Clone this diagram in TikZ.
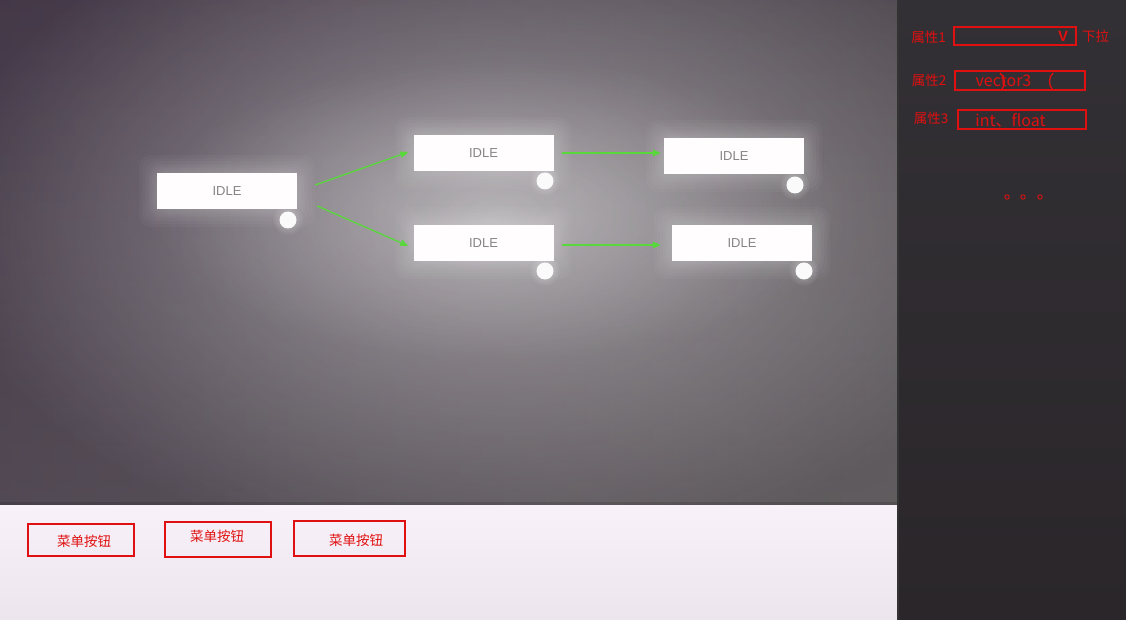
\documentclass[tikz,border=0pt]{standalone}
\usepackage{fontspec}
\setmainfont{Liberation Sans}
\newfontfamily\cjk{Noto Sans CJK SC}
\usetikzlibrary{arrows.meta,fadings}
\tikzfading[name=myglow, inner color=transparent!0, outer color=transparent!100]
\definecolor{redui}{HTML}{E01010}
\definecolor{greenarrow}{HTML}{58D83A}
\definecolor{idletext}{HTML}{858585}
\definecolor{bgtop}{HTML}{5E5062}
\definecolor{bgbot}{HTML}{8A8688}
\definecolor{bgleft}{HTML}{5A4A60}
\definecolor{bgright}{HTML}{7A7478}
\definecolor{bartop}{HTML}{F9F1F9}
\definecolor{barbot}{HTML}{ECE5EE}
\definecolor{paneltop}{HTML}{333035}
\definecolor{panelbot}{HTML}{2A262A}
\begin{document}
\begin{tikzpicture}[x=1pt,y=-1pt,
  idlebox/.style={fill=white!97!pink, minimum width=140pt, minimum height=36pt, inner sep=0pt, font=\fontsize{13}{15}\selectfont, text=idletext},
  port/.style={circle, fill=white!96!gray, minimum size=17pt, inner sep=0pt},
  flow/.style={greenarrow, line width=1.3pt, -{Triangle[length=8pt,width=6.5pt]}},
  redbox/.style={draw=redui, line width=2pt, inner sep=0pt},
  redtext/.style={text=redui, inner sep=0pt, font=\cjk\fontsize{13.5}{15}\selectfont},
  bigred/.style={text=redui, inner sep=0pt, font=\cjk\fontsize{16}{18}\selectfont},
  glow/.style={fill=white, opacity=0.03, rounded corners=12pt}
]
\useasboundingbox (0,0) rectangle (1126,620);
% canvas background
\fill[top color=bgtop, bottom color=bgbot] (0,0) rectangle (898,505);
\fill[left color=bgleft, right color=bgright, opacity=0.45] (0,0) rectangle (898,505);
\begin{scope}
\clip (0,0) rectangle (898,505);
\fill[white, opacity=0.45, path fading=myglow] (-60,-120) rectangle (1040,560);
\fill[white, opacity=0.25, path fading=myglow] (150,60) rectangle (850,360);
% glows
\foreach \cx/\cy in {227/191,483/153,483/243,734/156,742/243}{
  \foreach \e in {18,15,12,9,7,5,3,1}{
    \fill[glow] (\cx-70-\e,\cy-18-\e) rectangle (\cx+70+\e,\cy+18+\e);
  }
}
\foreach \cx/\cy in {288/220,545/181,545/271,795/185,804/271}{
  \foreach \e in {6,4,2}{
    \fill[white, opacity=0.06] (\cx,\cy) circle (8.5+\e);
  }
}
\end{scope}
% bottom bar
\fill[top color=bartop, bottom color=barbot] (0,505) rectangle (898,620);
\fill[black, opacity=0.12] (0,502) rectangle (898,505);
% right panel
\fill[top color=paneltop, bottom color=panelbot] (898,0) rectangle (1126,620);
\fill[black!80] (897,0) rectangle (899,620);
% nodes
\node[idlebox] (A) at (227,191) {IDLE};
\node[idlebox] (B) at (483.5,153) {IDLE};
\node[idlebox] (C) at (483.5,243) {IDLE};
\node[idlebox] (D) at (734,156) {IDLE};
\node[idlebox] (E) at (742,243) {IDLE};
\node[port] (pA) at (288,220) {};
\node[port] (pB) at (545,181) {};
\node[port] (pC) at (545,271) {};
\node[port] (pD) at (795,185) {};
\node[port] (pE) at (804,271) {};
% connectors
\draw[flow] ([xshift=18pt,yshift=6pt]A.east) -- ([xshift=-5pt,yshift=1pt]B.west);
\draw[flow] ([xshift=20pt,yshift=-15pt]A.east) -- ([xshift=-5pt,yshift=-3pt]C.west);
\draw[flow] ([xshift=8pt]B.east) -- ([xshift=-3pt,yshift=3pt]D.west);
\draw[flow] ([xshift=8pt,yshift=-2pt]C.east) -- ([xshift=-11pt,yshift=-2pt]E.west);
% right panel
\node[redtext] (l1) at (928.5,37) {属性1};
\node[redbox, minimum width=122pt, minimum height=18pt] (f1) at (1015,36) {};
\node[text=redui, inner sep=0pt, font=\bfseries\fontsize{15}{16}\selectfont] (v1) at (1063,36) {V};
\node[redtext] (dd) at (1095.5,36.5) {下拉};
\node[redtext] (l2) at (929,80) {属性2};
\node[redbox, minimum width=130pt, minimum height=19pt] (f2) at (1020,80.5) {};
\node[bigred] (t2) at (1003.5,81) {vector3};
\draw[redui, line width=1.3pt] (1000,73) .. controls (1005.5,77) and (1005.5,85) .. (1002,89);
\draw[redui, line width=1.3pt] (1053,73) .. controls (1048.5,77) and (1048.5,85) .. (1052,89);
\node[redtext] (l3) at (931,118) {属性3};
\node[redbox, minimum width=128pt, minimum height=19pt] (f3) at (1022,119.5) {};
\node[bigred] (t3) at (1010.5,120) {int、float};
\foreach \x in {1007,1023,1040}{
  \draw[redui, line width=0.9pt] (\x,197) circle (2.2pt);
}
% bottom buttons
\node[redbox, minimum width=106pt, minimum height=32pt] (b1) at (81,540) {};
\node[redtext] (bt1) at (84,541.5) {菜单按钮};
\node[redbox, minimum width=106pt, minimum height=35pt] (b2) at (218,539.5) {};
\node[redtext] (bt2) at (217,536) {菜单按钮};
\node[redbox, minimum width=111pt, minimum height=35pt] (b3) at (349.5,538.5) {};
\node[redtext] (bt3) at (356,540.5) {菜单按钮};
\end{tikzpicture}
\end{document}
